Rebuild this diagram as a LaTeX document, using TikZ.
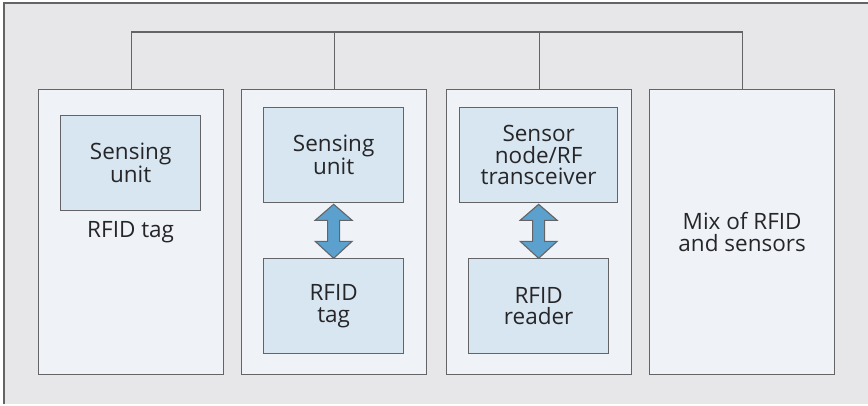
\documentclass[tikz,border=0pt]{standalone}
\usepackage{fontspec}
\setmainfont{Open Sans}
\usetikzlibrary{calc}
\definecolor{bgcol}{RGB}{231,231,233}
\definecolor{panelcol}{RGB}{239,243,248}
\definecolor{boxcol}{RGB}{216,230,241}
\definecolor{edgecol}{RGB}{100,100,102}
\definecolor{arrowcol}{RGB}{92,160,205}
\definecolor{textcol}{RGB}{38,38,40}
\tikzset{
  panel/.style={draw=edgecol, line width=1.3pt, fill=panelcol, rectangle, inner sep=0pt,
    minimum width=185pt, minimum height=285pt, anchor=north west,
    text=textcol, align=center, font=\fontsize{22.5pt}{21.5pt}\selectfont},
  unitbox/.style={draw=edgecol, line width=1.3pt, fill=boxcol, rectangle, inner sep=0pt,
    minimum width=140pt, minimum height=95pt, anchor=north west,
    text=textcol, align=center, font=\fontsize{22.5pt}{21.5pt}\selectfont},
  caption/.style={text=textcol, align=center, inner sep=0pt, font=\fontsize{22.5pt}{21.5pt}\selectfont},
  bus/.style={draw=edgecol, line width=1.3pt},
  link/.style={draw=edgecol, line width=1.1pt, fill=arrowcol, line join=miter}
}
\begin{document}
\begin{tikzpicture}[x=1pt,y=-1pt]
  \useasboundingbox (0,0) rectangle (868,405);
  % outer frame
  \fill[bgcol] (4,3) rectangle (868,404);
  \draw[edgecol, line width=1.3pt] (868,3) -- (4,3) -- (4,404);

  % four panels
  \node[panel] (p1) at (38,89) {};
  \node[panel] (p2) at (241,89) {};
  \node[panel] (p3) at (446,89) {};
  \node[panel] (p4) at (649,89) {Mix of RFID\\and sensors};

  % bus joining the panels
  \coordinate (busL) at ($(p1.north)+(0,-57)$);
  \coordinate (busR) at ($(p4.north)+(0,-57)$);
  \draw[bus] (p1.north) -- (busL) -- (busR) -- (p4.north);
  \draw[bus] (p2.north) -- (p2.north |- busL);
  \draw[bus] (p3.north) -- (p3.north |- busL);

  % panel 1
  \node[unitbox] (s1) at (60,115) {Sensing\\unit};
  \node[caption, anchor=base] (c1) at ($(s1.south)+(0,26)$) {RFID tag};

  % panel 2
  \node[unitbox] (s2) at (263,107) {Sensing\\unit};
  \node[unitbox] (t2) at (263,258) {RFID\\tag};

  % panel 3
  \node[unitbox, minimum width=158pt] (s3) at (459,107) {Sensor\\node/RF\\transceiver};
  \node[unitbox] (t3) at (468,258) {RFID\\reader};

  % two-headed block arrows between the units
  \foreach \a/\b in {s2/t2, s3/t3}{
    \coordinate (top) at ($(\a.south)+(0,1)$);
    \coordinate (bot) at ($(\b.north |- top)+(0,0)$);
    \draw[link] (top) -- ++(18.5,16) -- ++(-12.5,0) -- ++(0,21) -- ++(12.5,0)
      -- ++(-18.5,17) -- ++(-18.5,-17) -- ++(12.5,0) -- ++(0,-21) -- ++(-12.5,0) -- cycle;
  }
\end{tikzpicture}
\end{document}
